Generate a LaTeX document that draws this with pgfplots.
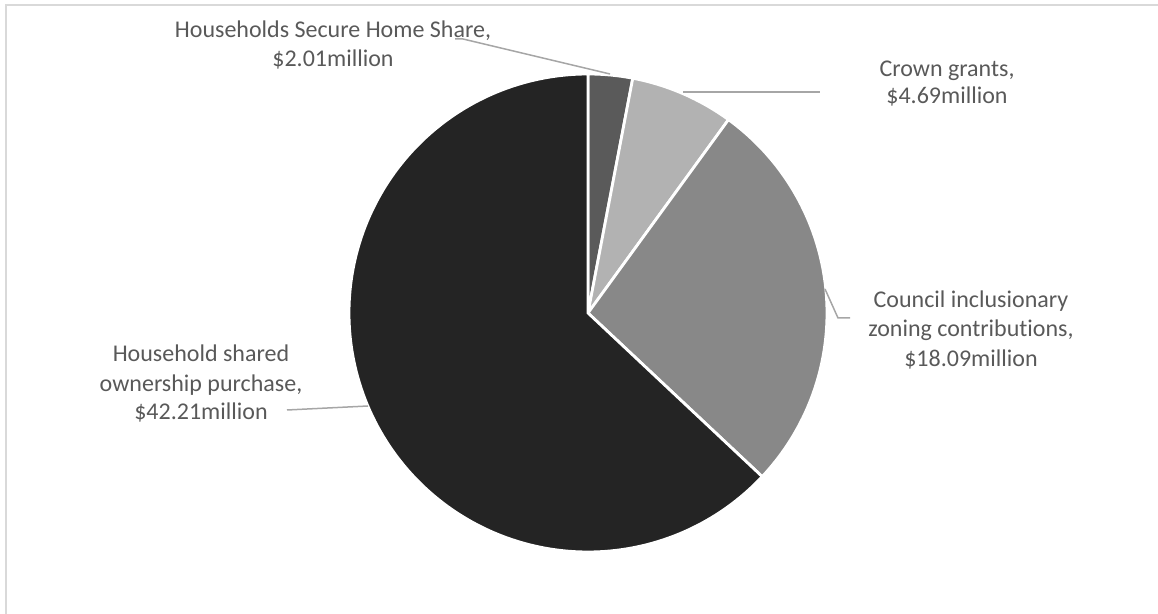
\documentclass[border=0pt]{standalone}
\usepackage{pgfplots}
\pgfplotsset{compat=1.18}
\usepackage{fontspec}
\setmainfont{Carlito}[Ligatures=NoCommon]
\definecolor{txt}{HTML}{595959}
\definecolor{lead}{HTML}{A6A6A6}
\definecolor{frame}{HTML}{D9D9D9}
\definecolor{cA}{HTML}{5A5A5A}
\definecolor{cB}{HTML}{B2B2B2}
\definecolor{cC}{HTML}{888888}
\definecolor{cD}{HTML}{242424}
% data values (million $)
\def\vA{2.01}\def\vB{4.69}\def\vC{18.09}\def\vD{42.21}
\pgfmathsetmacro\tot{\vA+\vB+\vC+\vD}
\pgfmathsetmacro\aO{90}
\pgfmathsetmacro\aA{\aO-360*\vA/\tot}
\pgfmathsetmacro\aB{\aA-360*\vB/\tot}
\pgfmathsetmacro\aC{\aB-360*\vC/\tot}
\pgfmathsetmacro\aD{\aC-360*\vD/\tot}
\tikzset{lab/.style={anchor=base, inner sep=0pt, text=txt, font=\fontsize{12}{14.5}\selectfont}}
\begin{document}
\begin{tikzpicture}
\begin{axis}[
  scale only axis, width=579pt, height=307pt,
  xmin=0, xmax=1158, ymin=0, ymax=614, y dir=reverse,
  hide axis, clip=false,
]
% frame
\draw[frame, line width=1pt] (axis cs:6,614) -- (axis cs:6,5) -- (axis cs:1158,5);
% slices
\addplot[fill=cA, draw=white, line width=1.4pt, domain=\aA:\aO, samples=20, variable=\t]
  ({588+239*cos(\t)},{313-239*sin(\t)}) -- (axis cs:588,313) -- cycle;
\addplot[fill=cB, draw=white, line width=1.4pt, domain=\aB:\aA, samples=30, variable=\t]
  ({588+239*cos(\t)},{313-239*sin(\t)}) -- (axis cs:588,313) -- cycle;
\addplot[fill=cC, draw=white, line width=1.4pt, domain=\aC:\aB, samples=80, variable=\t]
  ({588+239*cos(\t)},{313-239*sin(\t)}) -- (axis cs:588,313) -- cycle;
\addplot[fill=cD, draw=white, line width=1.4pt, domain=\aD:\aC, samples=160, variable=\t]
  ({588+239*cos(\t)},{313-239*sin(\t)}) -- (axis cs:588,313) -- cycle;
% leader lines
\addplot[lead, line width=0.75pt, no markers] coordinates {(455,39) (463,39) (610,74)};
\addplot[lead, line width=0.75pt, no markers] coordinates {(683,92) (820,92)};
\addplot[lead, line width=0.75pt, no markers] coordinates {(825,289) (838,318) (850,318)};
\addplot[lead, line width=0.75pt, no markers] coordinates {(287,410) (368,406)};
% labels
\node[lab] at (axis cs:333,38) {Households Secure Home Share,};
\node[lab] at (axis cs:333,67) {\$2.01million};
\node[lab] at (axis cs:947,77) {Crown grants,};
\node[lab] at (axis cs:947,104) {\$4.69million};
\node[lab] at (axis cs:971,308) {Council inclusionary};
\node[lab] at (axis cs:971,337) {zoning contributions,};
\node[lab] at (axis cs:971,367) {\$18.09million};
\node[lab] at (axis cs:201,362) {Household shared};
\node[lab] at (axis cs:201,392) {ownership purchase,};
\node[lab] at (axis cs:201,420) {\$42.21million};
\end{axis}
\pgfresetboundingbox
\useasboundingbox (0,0) rectangle (579pt,307pt);
\end{tikzpicture}
\end{document}
